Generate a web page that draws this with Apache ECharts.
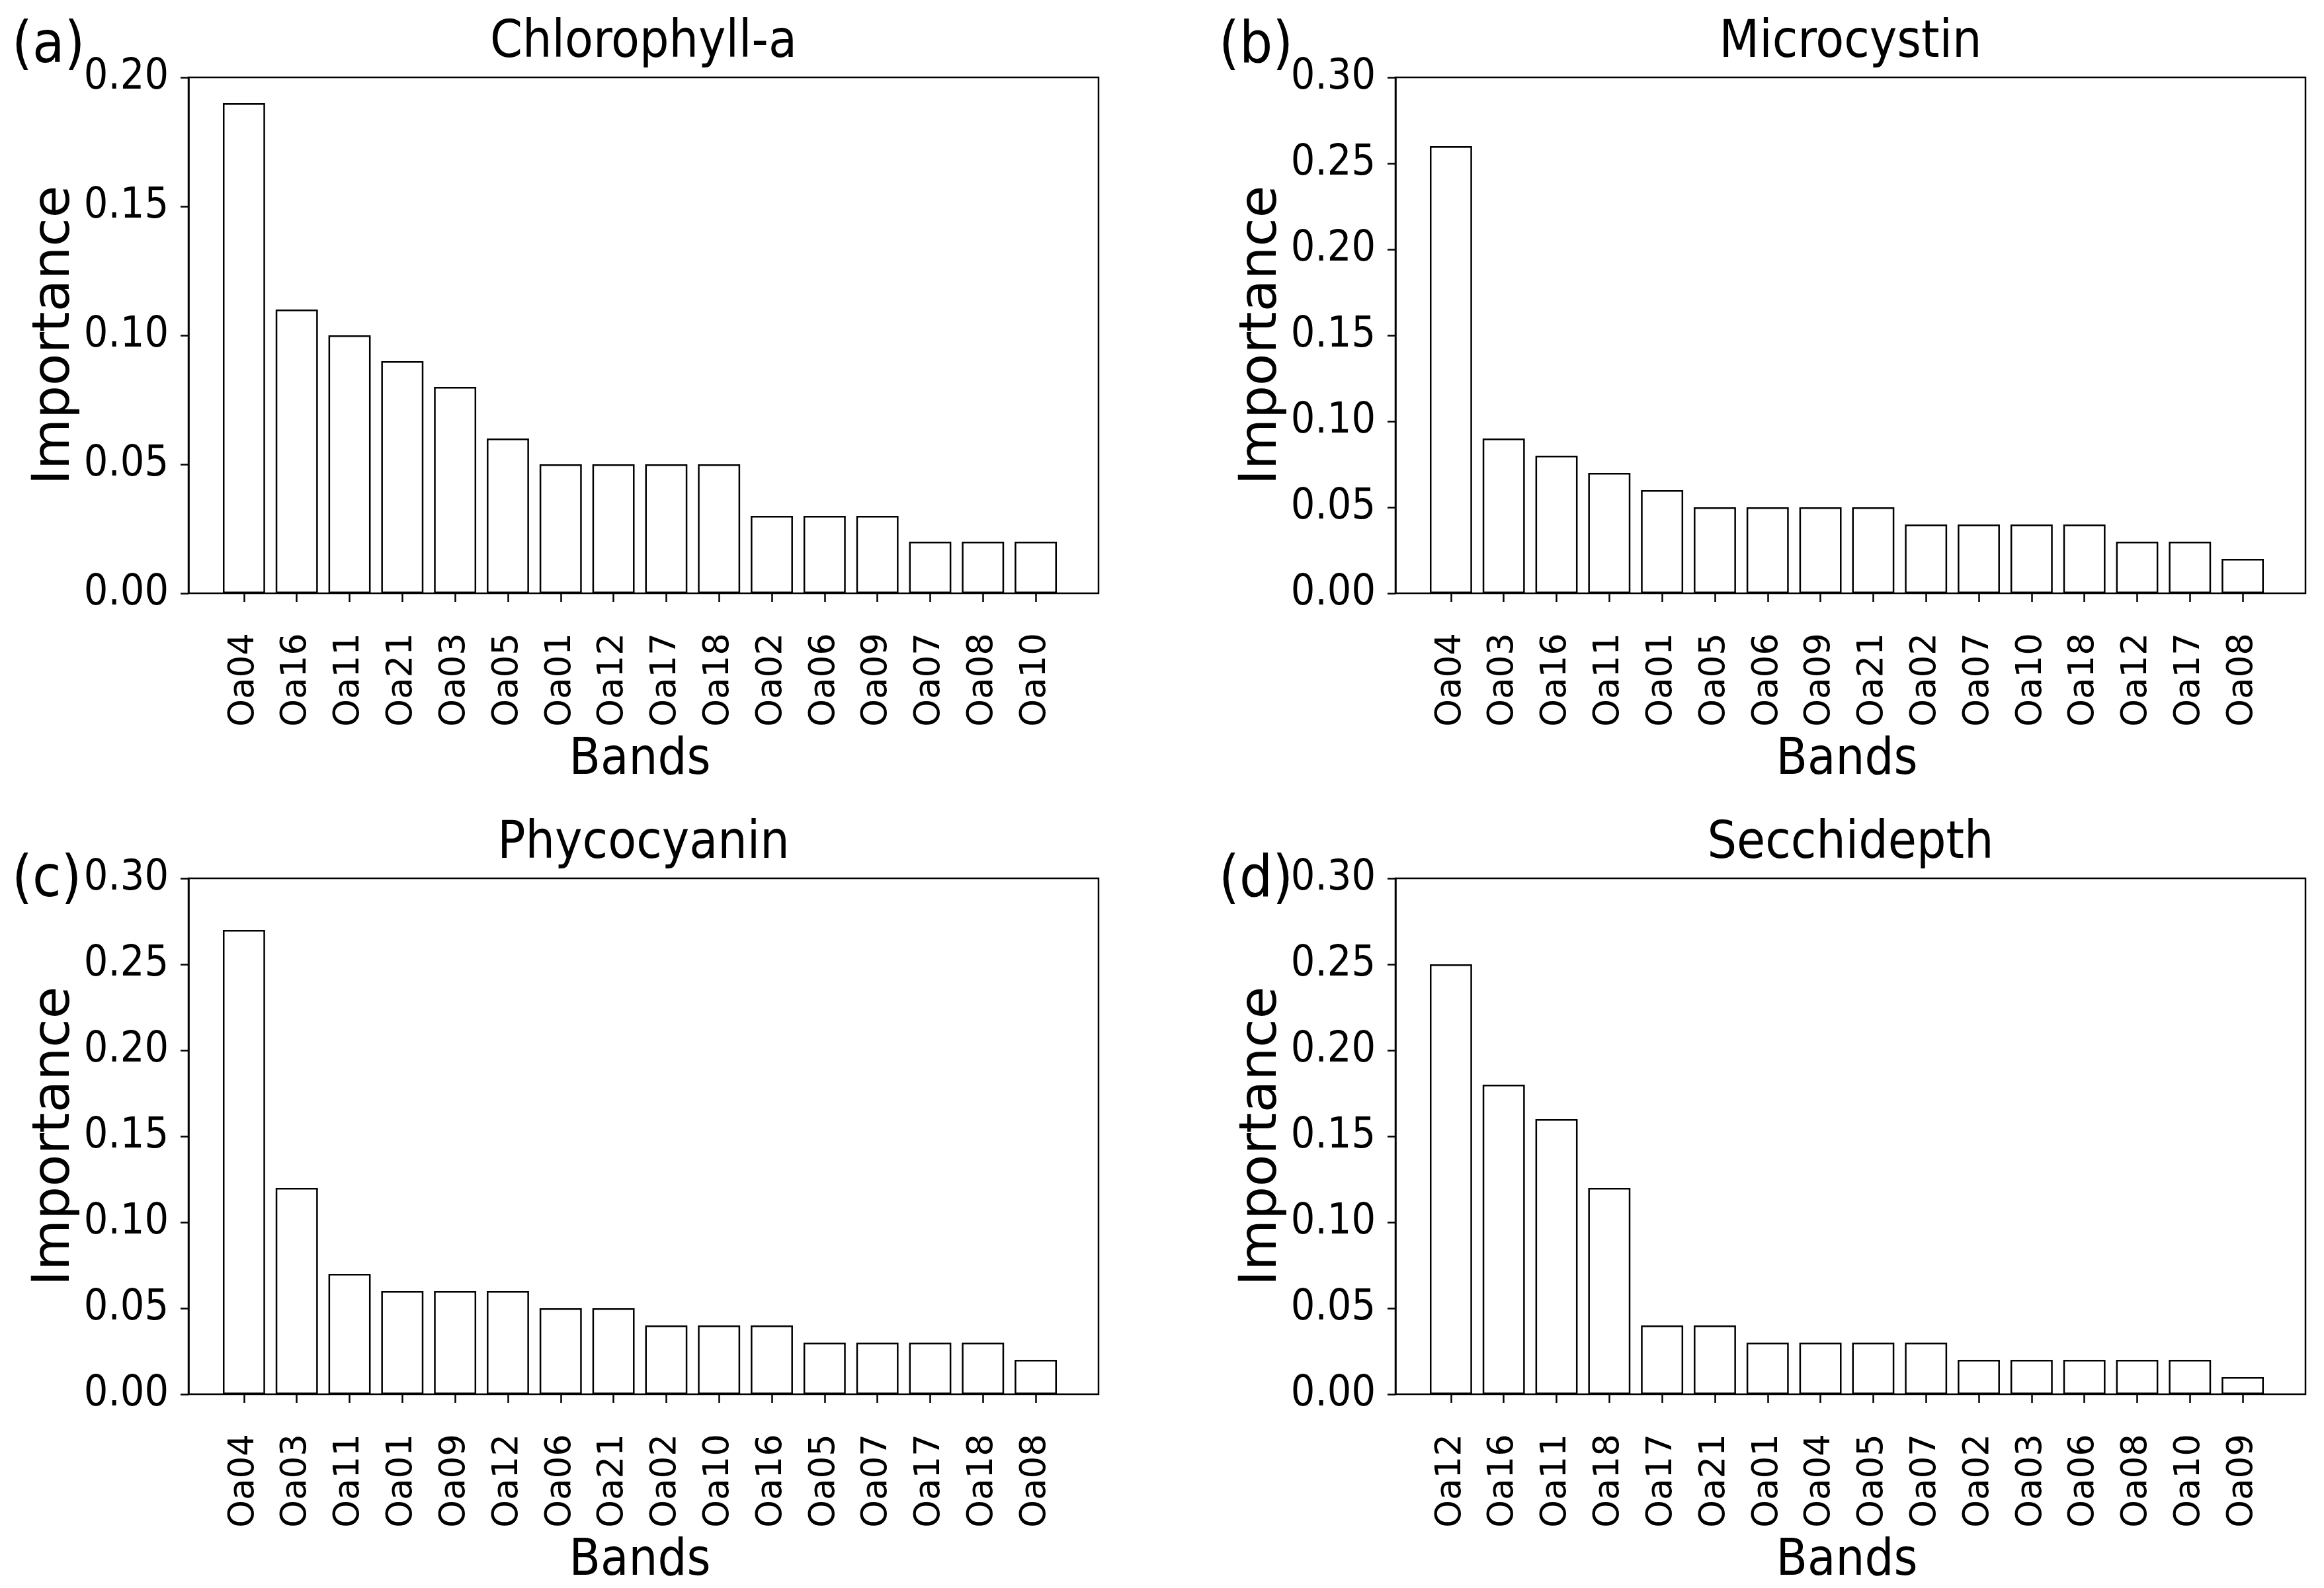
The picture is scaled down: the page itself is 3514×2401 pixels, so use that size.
<!DOCTYPE html>
<html>
<head>
<meta charset="utf-8">
<script src="https://cdn.jsdelivr.net/npm/echarts@6/dist/echarts.min.js"></script>
<style>html,body{margin:0;padding:0;background:#fff;}#c{width:3514px;height:2401px;}</style>
</head>
<body>
<div id="c"></div>
<script>
// ---- data ----
const titles = ["Chlorophyll-a", "Microcystin", "Phycocyanin", "Secchidepth"];
const panelTags = ["(a)", "(b)", "(c)", "(d)"];
const catsA = ["Oa04","Oa16","Oa11","Oa21","Oa03","Oa05","Oa01","Oa12","Oa17","Oa18","Oa02","Oa06","Oa09","Oa07","Oa08","Oa10"];
const valsA = [0.19,0.11,0.10,0.09,0.08,0.06,0.05,0.05,0.05,0.05,0.03,0.03,0.03,0.02,0.02,0.02];
const catsB = ["Oa04","Oa03","Oa16","Oa11","Oa01","Oa05","Oa06","Oa09","Oa21","Oa02","Oa07","Oa10","Oa18","Oa12","Oa17","Oa08"];
const valsB = [0.26,0.09,0.08,0.07,0.06,0.05,0.05,0.05,0.05,0.04,0.04,0.04,0.04,0.03,0.03,0.02];
const catsC = ["Oa04","Oa03","Oa11","Oa01","Oa09","Oa12","Oa06","Oa21","Oa02","Oa10","Oa16","Oa05","Oa07","Oa17","Oa18","Oa08"];
const valsC = [0.27,0.12,0.07,0.06,0.06,0.06,0.05,0.05,0.04,0.04,0.04,0.03,0.03,0.03,0.03,0.02];
const catsD = ["Oa12","Oa16","Oa11","Oa18","Oa17","Oa21","Oa01","Oa04","Oa05","Oa07","Oa02","Oa03","Oa06","Oa08","Oa10","Oa09"];
const valsD = [0.25,0.18,0.16,0.12,0.04,0.04,0.03,0.03,0.03,0.03,0.02,0.02,0.02,0.02,0.02,0.01];
const yMax = [0.20, 0.30, 0.30, 0.30];
const yTickStep = 0.05;
const xAxisName = "Bands";
const yAxisName = "Importance";

const cats = [catsA, catsB, catsC, catsD];
const vals = [valsA, valsB, valsC, valsD];

// ---- layout ----
const FONT_H = "'DejaVu Sans Condensed', 'DejaVu Sans', sans-serif";
const FONT_R = "'DejaVu Sans', sans-serif";
const frameLeft = [285, 2110, 285, 2110];
const frameTop = [117, 117, 1328, 1328];
const frameW = 1376, frameH = 780;
const innerOffset = 44, innerW = 1277;
const LW = 2.5;

const grid = [], xAxis = [], yAxis = [], series = [], graphic = [];
for (let i = 0; i < 4; i++) {
  grid.push({left: frameLeft[i], top: frameTop[i], width: frameW, height: frameH,
    show: true, borderColor: '#000', borderWidth: LW, backgroundColor: 'transparent', containLabel: false});
  grid.push({left: frameLeft[i] + innerOffset, top: frameTop[i], width: innerW, height: frameH, containLabel: false});
  const gf = 2 * i, gi = 2 * i + 1;
  xAxis.push({gridIndex: gf, type: 'value', show: false, min: 0, max: 1});
  xAxis.push({gridIndex: gi, type: 'category', data: cats[i], boundaryGap: true,
    axisLine: {show: false},
    axisTick: {show: true, alignWithLabel: true, inside: false, length: 13, lineStyle: {color: '#000', width: LW}},
    axisLabel: {interval: 0, rotate: 90, fontSize: 53, color: '#000', fontFamily: FONT_R, margin: 60},
    name: xAxisName, nameLocation: 'middle', nameGap: 214,
    nameTextStyle: {fontSize: 77, color: '#000', fontFamily: FONT_H},
    splitLine: {show: false}});
  yAxis.push({gridIndex: gf, type: 'value', min: 0, max: yMax[i], interval: yTickStep,
    axisLine: {show: true, lineStyle: {color: '#000', width: LW}},
    axisTick: {show: true, inside: false, length: 12, lineStyle: {color: '#000', width: LW}},
    axisLabel: {fontSize: 64, color: '#000', fontFamily: FONT_H, margin: 30, formatter: v => v.toFixed(2)},
    splitLine: {show: false},
    name: yAxisName, nameLocation: 'middle', nameGap: 147,
    nameTextStyle: {fontSize: 79, color: '#000', fontFamily: FONT_R}});
  yAxis.push({gridIndex: gi, type: 'value', min: 0, max: yMax[i], show: false});
  series.push({type: 'bar', xAxisIndex: 2 * i + 1, yAxisIndex: 2 * i + 1, data: vals[i], barWidth: '80%',
    itemStyle: {color: '#fff', borderColor: '#000', borderWidth: LW}, silent: true, animation: false});
  graphic.push({type: 'text', x: frameLeft[i] + frameW / 2, y: frameTop[i] - 12,
    style: {text: titles[i], fill: '#000', font: "78px " + FONT_H, textAlign: 'center', textVerticalAlign: 'bottom', align: 'center', verticalAlign: 'bottom'}});
  graphic.push({type: 'text', x: frameLeft[i] - 267, y: frameTop[i] - 90 + (i >= 2 ? 50 : 0),
    style: {text: panelTags[i], fill: '#000', font: "88px " + FONT_H, textAlign: 'left', textVerticalAlign: 'top', align: 'left', verticalAlign: 'top'}});
}

const chart = echarts.init(document.getElementById('c'), null, {renderer: 'canvas'});
chart.setOption({backgroundColor: '#fff', animation: false, grid, xAxis, yAxis, series, graphic});
</script>
</body>
</html>
